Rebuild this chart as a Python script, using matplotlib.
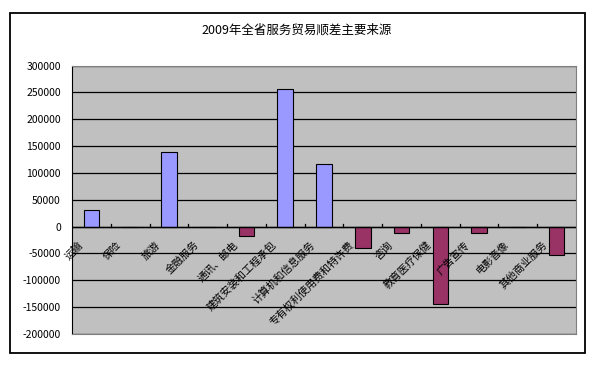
import matplotlib
matplotlib.use("Agg")
import matplotlib.pyplot as plt
from matplotlib.patches import Rectangle
from matplotlib.transforms import offset_copy
import numpy as np

plt.rcParams['font.family'] = ['Noto Sans CJK SC', 'DejaVu Sans']
plt.rcParams['axes.unicode_minus'] = False

title = "2009年全省服务贸易顺差主要来源"
categories = ["运输", "保险", "旅游", "金融服务", "通讯、邮电", "建筑安装和工程承包",
              "计算机和信息服务", "专有权利使用费和特许费", "咨询", "教育医疗保健",
              "广告宣传", "电影音像", "其他商业服务"]
values = [30000, 0, 139000, 0, -18000, 256000, 117000, -39000, -11500, -145000,
          -11000, 0, -52000]
yticks = [-200000, -150000, -100000, -50000, 0, 50000, 100000, 150000, 200000, 250000, 300000]

W, H = 606, 366
fig = plt.figure(figsize=(W / 100, H / 100), dpi=100)
fig.patch.set_facecolor("white")

# outer chart frame
fig.patches.append(Rectangle((9.5 / W, 1 - 353 / H), (585 - 9.5) / W, (353 - 12.5) / H,
                             transform=fig.transFigure, fill=False, edgecolor="black",
                             linewidth=1.3, zorder=0))

left, right, top, bottom = 72, 576, 65.5, 334
ax = fig.add_axes([left / W, 1 - bottom / H, (right - left) / W, (bottom - top) / H])
ax.set_facecolor("#C0C0C0")

x = np.arange(len(categories))
colors = ["#9999FF" if v >= 0 else "#993366" for v in values]
ax.bar(x, values, width=0.4, color=colors, edgecolor="black", linewidth=0.8, zorder=3)

ax.set_xlim(-0.5, len(categories) - 0.5)
ax.set_ylim(-200000, 300000)
ax.set_yticks(yticks)
ax.set_yticklabels([str(t) for t in yticks], fontsize=7.5)
ax.tick_params(axis="y", length=0, pad=8)
ax.yaxis.grid(True, color="black", linewidth=0.9, zorder=1)
ax.set_axisbelow(True)

ax.set_xticks([])
for s in ["top", "right"]:
    ax.spines[s].set_color("#808080")
ax.spines["left"].set_color("black")
ax.spines["bottom"].set_color("#808080")

# category axis at zero
ax.axhline(0, color="black", linewidth=1.0, zorder=4)
for b in np.arange(0.5, len(categories) - 0.5, 1.0):
    ax.plot([b, b], [0, 5500], color="black", linewidth=0.9, zorder=4)

trans = offset_copy(ax.transData, fig=fig, x=-7, y=-13, units="dots")
for i, c in enumerate(categories):
    ax.text(i, 0, c, rotation=45, ha="right", va="top", fontsize=7.5,
            transform=trans, zorder=5)

fig.text(297 / W, 1 - 30 / H, title, ha="center", va="center", fontsize=9)

fig.savefig("out.png", dpi=100)
